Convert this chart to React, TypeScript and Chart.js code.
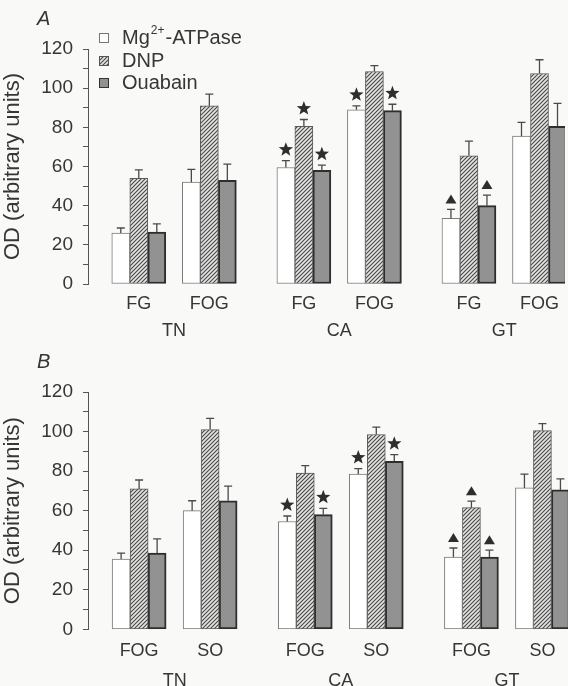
import React, { useEffect, useRef } from 'react';
import { Chart, registerables } from 'chart.js';

Chart.register(...registerables);

// ---------------- data ----------------
const groups = ['TN', 'CA', 'GT'];
const fibresA = ['FG', 'FOG'];
const fibresB = ['FOG', 'SO'];
const seriesLabels = ['Mg2+-ATPase', 'DNP', 'Ouabain'];

// Panel A: TN-FG, TN-FOG, CA-FG, CA-FOG, GT-FG, GT-FOG
const mgA = [26, 52, 59.5, 89, 33.5, 75.5];
const mgErrA = [2.6, 6.5, 3.5, 2, 4.6, 7];
const dnpA = [54, 91, 80.5, 108.5, 65.5, 107.5];
const dnpErrA = [4.3, 6, 3.5, 3, 7.5, 7];
const ouaA = [26.5, 53, 58, 88.5, 40, 80.5];
const ouaErrA = [4.2, 8.2, 2.7, 3.3, 5.4, 11.7];
const mgSigA = ['', '', 'star', 'star', 'tri', ''];
const dnpSigA = ['', '', 'star', '', '', ''];
const ouaSigA = ['', '', 'star', 'star', 'tri', ''];

// Panel B: TN-FOG, TN-SO, CA-FOG, CA-SO, GT-FOG, GT-SO
const mgB = [35.5, 60, 54.5, 78.5, 36.5, 71.5];
const mgErrB = [3, 5, 2.8, 2.8, 4.6, 7];
const dnpB = [71, 101, 79, 98.5, 61.5, 100.5];
const dnpErrB = [4.5, 5.7, 3.8, 3.7, 3.3, 3.5];
const ouaB = [38.5, 65, 58, 85, 36.5, 70.5];
const ouaErrB = [7.2, 7.4, 3.2, 3.3, 3.5, 5.6];
const mgSigB = ['', '', 'star', 'star', 'tri', ''];
const dnpSigB = ['', '', '', '', 'tri', ''];
const ouaSigB = ['', '', 'star', 'star', 'tri', ''];

// ---------------- style / layout ----------------
const FONT = '"Liberation Sans", Arial, Helvetica, sans-serif';
const BG = '#f9f9f7';
const TEXT = '#363636';
const AXIS = '#555555';
const GROUP_STEP = 2.34;
const X_MIN = -0.72;
const X_MAX = 6.04;
const xPos = (i: number) => Math.floor(i / 2) * GROUP_STEP + (i % 2);
const groupCenter = (g: number) => g * GROUP_STEP + 0.5;

function makeHatch(ctx: CanvasRenderingContext2D) {
  const c = document.createElement('canvas');
  c.width = 4;
  c.height = 4;
  const g = c.getContext('2d')!;
  g.fillStyle = '#e4e4e2';
  g.fillRect(0, 0, 4, 4);
  g.strokeStyle = '#474747';
  g.lineWidth = 1.1;
  g.beginPath();
  g.moveTo(0, 4); g.lineTo(4, 0);
  g.moveTo(-1, 1); g.lineTo(1, -1);
  g.moveTo(3, 5); g.lineTo(5, 3);
  g.stroke();
  return ctx.createPattern(c, 'repeat')!;
}

function drawStar(ctx: CanvasRenderingContext2D, x: number, y: number, r: number) {
  ctx.beginPath();
  for (let k = 0; k < 10; k++) {
    const rad = k % 2 === 0 ? r : r * 0.42;
    const a = -Math.PI / 2 + (k * Math.PI) / 5;
    const px = x + rad * Math.cos(a);
    const py = y + rad * Math.sin(a);
    if (k === 0) ctx.moveTo(px, py); else ctx.lineTo(px, py);
  }
  ctx.closePath();
  ctx.fillStyle = '#2e2e2e';
  ctx.fill();
}

function drawTri(ctx: CanvasRenderingContext2D, x: number, yBottom: number, w: number, h: number) {
  ctx.beginPath();
  ctx.moveTo(x - w / 2, yBottom);
  ctx.lineTo(x + w / 2, yBottom);
  ctx.lineTo(x, yBottom - h);
  ctx.closePath();
  ctx.fillStyle = '#2e2e2e';
  ctx.fill();
}

const errorPlugin = {
  id: 'errorBarsAndMarks',
  afterDatasetsDraw(chart: any) {
    const ctx = chart.ctx as CanvasRenderingContext2D;
    const ys = chart.scales.y;
    chart.data.datasets.forEach((ds: any, di: number) => {
      const meta = chart.getDatasetMeta(di);
      meta.data.forEach((el: any, i: number) => {
        const v = ds.data[i].y;
        const e = ds.errs[i];
        const x = el.x;
        const top = el.y;
        const et = ys.getPixelForValue(v + e);
        ctx.save();
        ctx.strokeStyle = '#4a4a4a';
        ctx.lineWidth = 1.3;
        ctx.beginPath();
        ctx.moveTo(x, top);
        ctx.lineTo(x, et);
        ctx.moveTo(x - 4, et);
        ctx.lineTo(x + 4, et);
        ctx.stroke();
        const s = ds.sigs[i];
        if (s === 'star') drawStar(ctx, x, et - 11, 7.5);
        if (s === 'tri') drawTri(ctx, x, et - 6, 11, 9);
        ctx.restore();
      });
    });
  },
};

const decoPlugin = {
  id: 'panelDeco',
  afterDraw(chart: any) {
    const ctx = chart.ctx as CanvasRenderingContext2D;
    const o = chart.options.plugins.panelDeco;
    ctx.save();
    ctx.fillStyle = TEXT;
    ctx.font = `italic 20px ${FONT}`;
    ctx.textBaseline = 'middle';
    ctx.textAlign = 'left';
    ctx.fillText(o.letter, 37, 19);
    if (o.legend) {
      const fills = o.fills;
      const strokes = ['#777', '#555', '#333'];
      const rows = [38, 61, 83];
      seriesLabels.forEach((lab, k) => {
        const y = rows[k];
        ctx.fillStyle = fills[k];
        ctx.fillRect(99, y - 5, 10, 10);
        ctx.strokeStyle = strokes[k];
        ctx.lineWidth = 1;
        ctx.strokeRect(99.5, y - 4.5, 9, 9);
        ctx.fillStyle = TEXT;
        ctx.font = `20px ${FONT}`;
        let tx = 122;
        if (lab.startsWith('Mg2+')) {
          ctx.fillText('Mg', tx, y);
          tx += ctx.measureText('Mg').width + 1;
          ctx.font = `12px ${FONT}`;
          ctx.fillText('2+', tx, y - 7);
          tx += ctx.measureText('2+').width + 1;
          ctx.font = `20px ${FONT}`;
          ctx.fillText(lab.slice(4), tx, y);
        } else {
          ctx.fillText(lab, tx, y);
        }
      });
    }
    ctx.restore();
  },
};

type PanelProps = {
  letter: string;
  fibres: string[];
  values: number[][];
  errs: number[][];
  sigs: string[][];
  legend: boolean;
  padTop: number;
  h1: number;
  h2: number;
  pad1: number;
  pad2: number;
};

function Panel(p: PanelProps) {
  const ref = useRef<HTMLCanvasElement | null>(null);
  useEffect(() => {
    const canvas = ref.current!;
    const ctx = canvas.getContext('2d')!;
    const hatch = makeHatch(ctx);
    const fills: any[] = ['#ffffff', hatch, '#929292'];
    const borders = ['#7a7a7a', '#5a5a5a', '#2e2e2e'];
    const bws = [1, 1, 2];
    const catLabels = groups.flatMap(() => p.fibres);
    const positions = catLabels.map((_, i) => xPos(i));
    const centers = groups.map((_, g) => groupCenter(g));

    const datasets = p.values.map((vals, k) => ({
      label: seriesLabels[k],
      data: vals.map((v, i) => ({ x: xPos(i), y: v })),
      errs: p.errs[k],
      sigs: p.sigs[k],
      backgroundColor: fills[k],
      borderColor: borders[k],
      borderWidth: bws[k],
      borderSkipped: false,
      barThickness: 18,
    }));

    const chart = new Chart(ctx, {
      type: 'bar',
      data: { datasets } as any,
      plugins: [errorPlugin, decoPlugin],
      options: {
        animation: false,
        responsive: false,
        devicePixelRatio: 1,
        layout: { padding: { top: p.padTop, left: 0, right: 0, bottom: 0 } },
        plugins: {
          legend: { display: false },
          tooltip: { enabled: false },
          panelDeco: { letter: p.letter, legend: p.legend, fills },
        } as any,
        scales: {
          x: {
            type: 'linear',
            position: 'bottom',
            offset: false,
            min: X_MIN,
            max: X_MAX,
            weight: 0,
            grid: { display: false, drawTicks: false, offset: false },
            border: { display: false },
            afterBuildTicks: (s: any) => {
              s.ticks = positions.map((v) => ({ value: v }));
            },
            afterFit: (s: any) => {
              s.height = p.h1;
            },
            ticks: {
              autoSkip: false,
              maxRotation: 0,
              padding: p.pad1,
              color: TEXT,
              font: { family: FONT, size: 18 },
              callback: (_v: any, i: number) => catLabels[i],
            },
          },
          x2: {
            type: 'linear',
            position: 'bottom',
            offset: false,
            min: X_MIN,
            max: X_MAX,
            weight: 1,
            grid: { display: false, drawTicks: false, offset: false },
            border: { display: false },
            afterBuildTicks: (s: any) => {
              s.ticks = centers.map((v) => ({ value: v }));
            },
            afterFit: (s: any) => {
              s.height = p.h2;
            },
            ticks: {
              autoSkip: false,
              maxRotation: 0,
              padding: p.pad2,
              color: TEXT,
              font: { family: FONT, size: 18 },
              callback: (_v: any, i: number) => groups[i],
            },
          },
          y: {
            min: 0,
            max: 120,
            afterFit: (s: any) => {
              s.width = 88;
            },
            grid: { drawOnChartArea: false, drawTicks: true, tickLength: 5, color: AXIS, lineWidth: 1 },
            border: { display: true, color: AXIS, width: 1 },
            ticks: {
              stepSize: 10,
              autoSkip: false,
              padding: 10,
              color: TEXT,
              font: { family: FONT, size: 19 },
              callback: (v: any) => (Number(v) % 20 === 0 ? String(v) : ''),
            },
            title: {
              display: true,
              text: 'OD (arbitrary units)',
              color: TEXT,
              font: { family: FONT, size: 22 },
              padding: { top: 0, bottom: 0 },
            },
          },
        },
      } as any,
    });
    return () => chart.destroy();
  }, []);
  return <canvas ref={ref} width={568} height={343} style={{ display: 'block' }} />;
}

export default function App() {
  useEffect(() => {
    document.body.style.margin = '0';
    document.body.style.background = BG;
  }, []);
  return (
    <div style={{ width: 568, height: 686, background: BG }}>
      <Panel
        letter="A"
        fibres={fibresA}
        values={[mgA, dnpA, ouaA]}
        errs={[mgErrA, dnpErrA, ouaErrA]}
        sigs={[mgSigA, dnpSigA, ouaSigA]}
        legend={true}
        padTop={49}
        h1={30}
        h2={29}
        pad1={9}
        pad2={6}
      />
      <Panel
        letter="B"
        fibres={fibresB}
        values={[mgB, dnpB, ouaB]}
        errs={[mgErrB, dnpErrB, ouaErrB]}
        sigs={[mgSigB, dnpSigB, ouaSigB]}
        legend={false}
        padTop={49}
        h1={30}
        h2={26.7}
        pad1={11}
        pad2={11}
      />
    </div>
  );
}
